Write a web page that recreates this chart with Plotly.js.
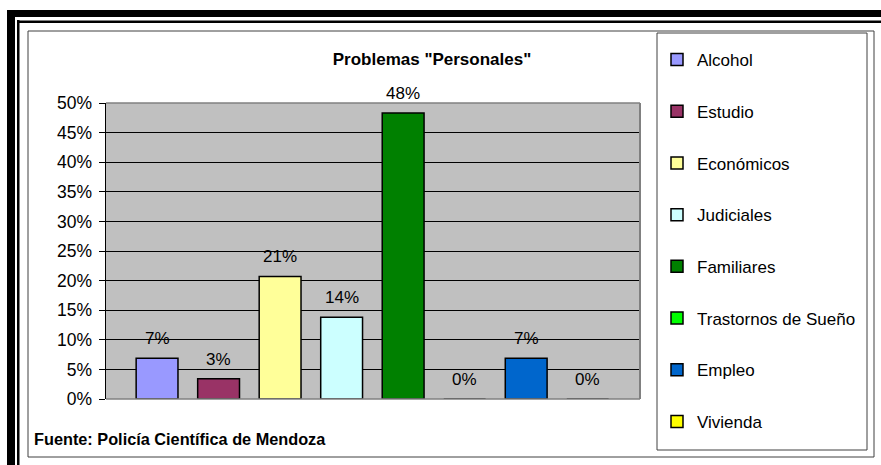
<!DOCTYPE html>
<html>
<head>
<meta charset="utf-8">
<script src="https://cdn.plot.ly/plotly-3.0.1.min.js"></script>
<style>html,body{margin:0;padding:0;background:#fff}#chart{width:881px;height:465px}</style>
</head>
<body>
<div id="chart"></div>
<script>
// ---- data ----
const categories = ["Alcohol", "Estudio", "Económicos", "Judiciales", "Familiares", "Trastornos de Sueño", "Empleo", "Vivienda"];
const values = [0.069, 0.034, 0.207, 0.138, 0.483, 0, 0.069, 0];
const colors = ["#9999FF", "#993366", "#FFFF99", "#CCFFFF", "#008000", "#00FF00", "#0066CC", "#FFFF00"];
const yTicks = [0, 0.05, 0.10, 0.15, 0.20, 0.25, 0.30, 0.35, 0.40, 0.45, 0.50];
const chartTitle = 'Problemas "Personales"';
const sourceNote = "Fuente: Policía Científica de Mendoza";

// ---- layout geometry (pixels) ----
const W = 881, H = 465;
const M = {l: 106, r: 241, t: 103, b: 66};
const PW = W - M.l - M.r, PH = H - M.t - M.b;
const X = px => (px - M.l) / PW;
const Y = py => (H - M.b - py) / PH;
const FONT = "Liberation Sans, Arial, sans-serif";

const traces = categories.map((c, i) => ({
  type: "bar",
  name: c,
  x: [c],
  y: [values[i]],
  width: 0.68,
  legendgroup: "g" + i,
  marker: {color: colors[i], line: {color: "#000", width: 1.5}},
  hoverinfo: "name+y"
}));

const labelAnnotations = categories.map((c, i) => ({
  x: c, y: values[i], xref: "x", yref: "y",
  text: Math.round(values[i] * 100) + "%",
  showarrow: false, yanchor: "bottom", yshift: 8,
  font: {family: FONT, size: 17, color: "#000"}
}));

const rect = (x0, y0, x1, y1, fill, line, lw) => ({
  type: "rect", xref: "paper", yref: "paper",
  x0: X(x0), x1: X(x1), y0: Y(y0), y1: Y(y1),
  fillcolor: fill, line: {color: line || "rgba(0,0,0,0)", width: lw || 0}
});
const seg = (x0, y0, x1, y1, color, lw) => ({
  type: "line", xref: "paper", yref: "paper",
  x0: X(x0), x1: X(x1), y0: Y(y0), y1: Y(y1),
  line: {color: color, width: lw}
});

const shapes = [
  rect(7, 10, 15, 470, "#000"),
  rect(7, 10, 890, 17, "#000"),
  rect(17, 20, 19.5, 470, "#000"),
  rect(17, 20.5, 890, 23, "#000"),
  rect(28, 31, 874, 457, "rgba(0,0,0,0)", "#404040", 1),
  rect(657, 33, 867, 450, "#fff", "#404040", 1),
  seg(106, 103, 640, 103, "#808080", 1.5),
  seg(640, 103, 640, 399, "#808080", 2),
  seg(106, 399, 640, 399, "#808080", 1.5)
];

const layout = {
  width: W, height: H,
  margin: M,
  paper_bgcolor: "#fff",
  plot_bgcolor: "#C0C0C0",
  barmode: "overlay",
  font: {family: FONT, size: 17, color: "#000"},
  title: {
    text: "<b>" + chartTitle + "</b>",
    x: 432 / W, xanchor: "center", xref: "container",
    y: 1 - 59 / H, yanchor: "middle", yref: "container",
    font: {family: FONT, size: 17, color: "#000"}
  },
  xaxis: {
    type: "category",
    categoryarray: categories,
    range: [-0.83, 7.85],
    showticklabels: false, ticks: "", showgrid: false, zeroline: false, showline: false,
    fixedrange: true
  },
  yaxis: {
    range: [0, 0.5],
    tickvals: yTicks,
    tickformat: ".0%",
    ticks: "outside", ticklen: 6, tickcolor: "#000", tickwidth: 1,
    ticklabelstandoff: 3,
    showline: true, linecolor: "#000", linewidth: 1.5,
    showgrid: true, gridcolor: "#000", gridwidth: 1,
    zeroline: false,
    tickfont: {family: FONT, size: 17.5, color: "#000"},
    fixedrange: true
  },
  showlegend: true,
  legend: {
    x: X(657), xanchor: "left", xref: "paper",
    y: Y(42), yanchor: "top", yref: "paper",
    bgcolor: "rgba(0,0,0,0)", borderwidth: 0,
    traceorder: "grouped", tracegroupgap: 26.6,
    maxheight: 600,
    font: {family: FONT, size: 17, color: "#000"}
  },
  shapes: shapes,
  annotations: labelAnnotations.concat([{
    xref: "paper", yref: "paper", x: X(32), y: Y(439),
    xanchor: "left", yanchor: "middle", showarrow: false,
    text: "<b>" + sourceNote + "</b>",
    font: {family: FONT, size: 16.3, color: "#000"}
  }])
};

Plotly.newPlot("chart", traces, layout, {displayModeBar: false, staticPlot: true});
</script>
</body>
</html>
